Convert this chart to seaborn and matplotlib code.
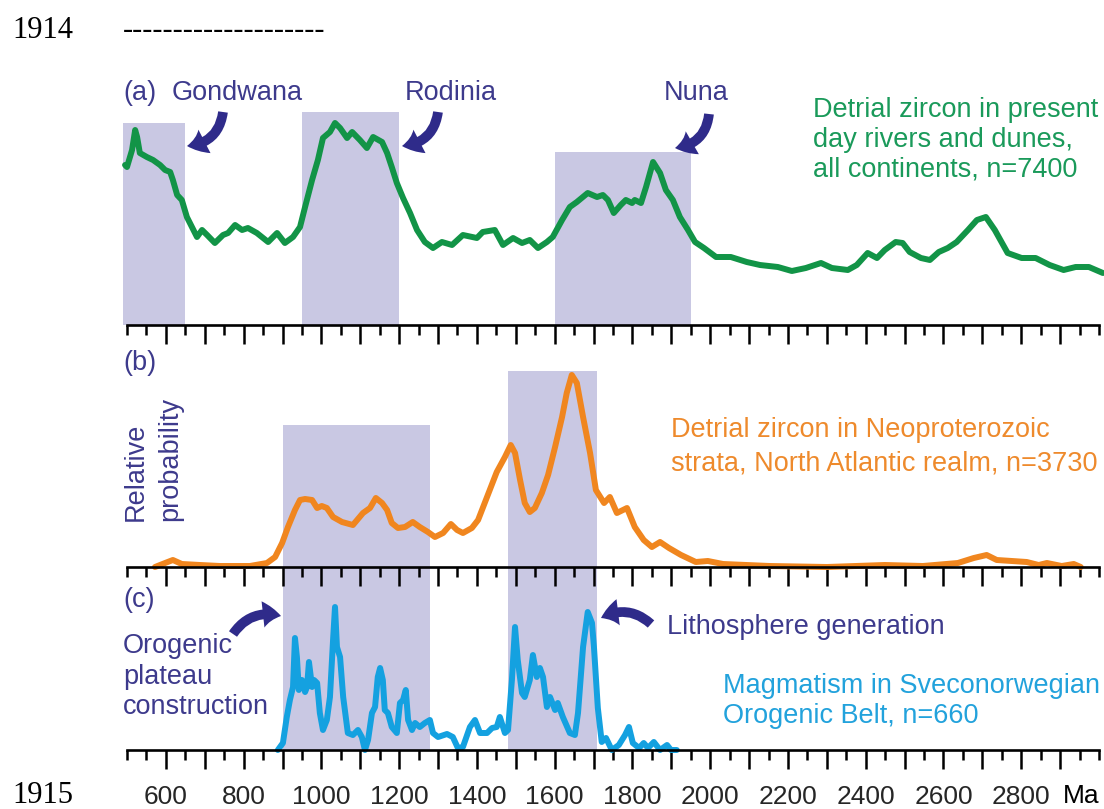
import matplotlib
matplotlib.use("Agg")
import matplotlib.pyplot as plt
import seaborn as sns
import pandas as pd
import numpy as np
from matplotlib.patches import FancyArrowPatch, ArrowStyle
from matplotlib.ticker import FixedLocator, FuncFormatter

# (a) detrital zircon in present-day rivers and dunes, all continents
world_age = [495, 500, 513, 521, 526, 533, 551, 567, 585, 598,
             611, 618, 629, 641, 654, 667, 680, 693, 706, 726,
             747, 760, 778, 796, 811, 834, 863, 886, 906, 927,
             945, 958, 976, 991, 1004, 1022, 1035, 1048, 1066, 1079,
             1099, 1117, 1133, 1156, 1169, 1181, 1194, 1210, 1228, 1246,
             1266, 1287, 1310, 1336, 1364, 1400, 1415, 1446, 1467, 1493,
             1516, 1536, 1557, 1580, 1595, 1619, 1639, 1657, 1685, 1709,
             1724, 1737, 1752, 1770, 1783, 1799, 1806, 1822, 1835, 1853,
             1871, 1886, 1904, 1922, 1943, 1961, 1984, 2015, 2053, 2094,
             2128, 2174, 2210, 2246, 2285, 2313, 2354, 2377, 2405, 2429,
             2449, 2477, 2495, 2513, 2542, 2565, 2588, 2611, 2634, 2663,
             2686, 2709, 2732, 2765, 2801, 2837, 2873, 2909, 2940, 2974,
             3010]
world_prob = [160, 158, 175, 195, 188, 172, 168, 165, 160, 155,
              153, 145, 130, 125, 108, 98, 88, 95, 90, 82,
              90, 92, 100, 95, 97, 92, 83, 92, 82, 88,
              98, 118, 145, 165, 187, 193, 202, 197, 187, 193,
              185, 177, 188, 183, 172, 158, 142, 127, 112, 95,
              83, 77, 83, 80, 90, 87, 93, 95, 80, 87,
              82, 85, 77, 83, 88, 105, 118, 123, 132, 128,
              130, 125, 112, 120, 125, 122, 125, 122, 138, 163,
              152, 135, 125, 108, 95, 83, 77, 68, 68, 63,
              60, 58, 54, 57, 62, 57, 55, 60, 72, 67,
              75, 83, 82, 73, 67, 65, 73, 77, 83, 95,
              105, 108, 95, 72, 67, 67, 60, 55, 58, 58,
              52]

# (b) detrital zircon in Neoproterozoic strata, North Atlantic realm
strata_age = [572, 598, 618, 641, 688, 739, 816, 860, 881, 899,
              914, 932, 945, 958, 976, 989, 1001, 1014, 1030, 1053,
              1081, 1107, 1125, 1140, 1156, 1169, 1181, 1197, 1215, 1235,
              1253, 1274, 1292, 1313, 1333, 1349, 1364, 1387, 1403, 1426,
              1451, 1472, 1487, 1498, 1511, 1523, 1536, 1549, 1567, 1583,
              1601, 1619, 1631, 1644, 1657, 1673, 1691, 1706, 1727, 1742,
              1760, 1786, 1806, 1829, 1850, 1871, 1894, 1925, 1963, 1994,
              2033, 2153, 2300, 2449, 2547, 2637, 2678, 2711, 2737, 2776,
              2814, 2845, 2866, 2904, 2935, 2953]
strata_prob = [0, 4, 7, 3, 2, 1, 1, 4, 10, 24,
               40, 57, 67, 68, 67, 59, 61, 59, 50, 45,
               42, 54, 59, 69, 64, 57, 44, 39, 40, 45,
               40, 35, 30, 34, 43, 37, 34, 39, 47, 70,
               95, 110, 122, 114, 87, 64, 55, 59, 74, 92,
               120, 150, 174, 192, 184, 150, 114, 77, 64, 70,
               54, 59, 40, 27, 20, 25, 19, 12, 5, 6,
               3, 1, 0, 2, 1, 4, 9, 12, 7, 6,
               5, 2, 4, 1, 3, 0]

# (c) magmatism in the Sveconorwegian Orogenic Belt
magma_age = [888, 901, 911, 919, 927, 932, 937, 942, 950, 958,
             963, 968, 976, 981, 989, 996, 1004, 1014, 1022, 1030,
             1035, 1040, 1048, 1056, 1068, 1081, 1094, 1104, 1112, 1120,
             1130, 1138, 1145, 1151, 1158, 1163, 1171, 1181, 1194, 1202,
             1210, 1217, 1223, 1233, 1241, 1253, 1266, 1279, 1287, 1300,
             1323, 1338, 1351, 1364, 1382, 1395, 1408, 1426, 1439, 1451,
             1459, 1472, 1480, 1490, 1498, 1505, 1516, 1523, 1536, 1544,
             1554, 1562, 1570, 1580, 1588, 1601, 1608, 1621, 1639, 1652,
             1660, 1673, 1685, 1696, 1701, 1711, 1721, 1732, 1747, 1765,
             1781, 1791, 1801, 1817, 1829, 1840, 1855, 1871, 1889, 1899,
             1914]
magma_prob = [0, 7, 33, 50, 63, 112, 93, 60, 70, 58,
              63, 88, 63, 70, 67, 37, 20, 30, 53, 110,
              143, 103, 93, 53, 17, 15, 20, 13, 0, 10,
              37, 43, 73, 82, 70, 40, 37, 23, 17, 47,
              50, 60, 30, 20, 27, 23, 27, 30, 17, 13,
              16, 13, 2, 3, 23, 30, 17, 17, 22, 23,
              33, 17, 20, 70, 123, 90, 57, 53, 70, 95,
              73, 82, 73, 43, 53, 40, 47, 33, 17, 15,
              37, 103, 138, 127, 103, 42, 8, 12, 0, 5,
              15, 23, 7, 2, 7, 2, 8, 0, 5, 0,
              0]

# supercontinent assembly intervals (Ma) shaded in panel (a)
supercontinents = ["Gondwana", "Rodinia", "Nuna"]
super_start = [490, 950, 1600]
super_end = [650, 1200, 1950]
super_top = [202, 213, 173]

# Sveconorwegian intervals (Ma) shaded in panels (b) and (c)
orogen_start = [900, 1480]
orogen_end = [1280, 1710]
orogen_top_b = [142, 196]

tick_label_ages = [600, 800, 1000, 1200, 1400, 1600, 1800, 2000, 2200, 2400, 2600, 2800]

sns.set_style("white")
plt.rcParams["font.family"] = ["Liberation Sans", "DejaVu Sans"]

W, H = 1104, 809
fig = plt.figure(figsize=(W / 100, H / 100), dpi=100)


def fx(x):
    return x / W


def fy(y):
    return 1 - y / H


NAVY = "#3d3a8c"
ARROW = "#2f2b8a"
BAND = "#c9c8e3"
GREEN_LINE = "#129447"
GREEN_TEXT = "#1a9a5a"
ORANGE = "#f0861f"
ORANGE_TEXT = "#ee8a2c"
BLUE = "#14a1e0"
BLUE_TEXT = "#22a2dc"
TXT = 19.5
TICK = 19

left, right = 127, 1099
ax_a = fig.add_axes([fx(left), fy(325), (right - left) / W, 265 / H])
ax_b = fig.add_axes([fx(left), fy(567), (right - left) / W, 227 / H])
ax_c = fig.add_axes([fx(left), fy(750), (right - left) / W, 182 / H])
ylims = {ax_a: 265, ax_b: 227, ax_c: 182}
ax_a.set_zorder(3)
ax_b.set_zorder(2)
ax_c.set_zorder(1)

# shaded intervals
for s0, s1, top in zip(super_start, super_end, super_top):
    ax_a.axvspan(s0, s1, ymin=0, ymax=top / 265, color=BAND, lw=0, zorder=0, clip_on=False)
for s0, s1, top in zip(orogen_start, orogen_end, orogen_top_b):
    ax_b.axvspan(s0, s1, ymin=0, ymax=top / 227, color=BAND, lw=0, zorder=0)
    ax_c.axvspan(s0, s1, ymin=0, ymax=1, color=BAND, lw=0, zorder=0)

# probability curves
line_kw = dict(linewidth=4.3, solid_joinstyle="round", solid_capstyle="round",
               clip_on=False, estimator=None, sort=False, legend=False)
sns.lineplot(data=pd.DataFrame({"age": world_age, "prob": world_prob}),
             x="age", y="prob", ax=ax_a, color=GREEN_LINE, **line_kw)
sns.lineplot(data=pd.DataFrame({"age": strata_age, "prob": strata_prob}),
             x="age", y="prob", ax=ax_b, color=ORANGE, **line_kw)
sns.lineplot(data=pd.DataFrame({"age": magma_age, "prob": magma_prob}),
             x="age", y="prob", ax=ax_c, color=BLUE, **line_kw)

for ax in (ax_a, ax_b, ax_c):
    ax.set_xlim(500, 3000)
    ax.set_ylim(0, ylims[ax])
    ax.set_xlabel("")
    ax.set_ylabel("")
    ax.patch.set_alpha(0)
    for s in ("top", "left", "right"):
        ax.spines[s].set_visible(False)
    ax.spines["bottom"].set_visible(True)
    ax.spines["bottom"].set_linewidth(1.9)
    ax.spines["bottom"].set_color("black")
    ax.set_yticks([])
    ax.xaxis.set_major_locator(FixedLocator(np.arange(600, 2901, 100)))
    ax.xaxis.set_minor_locator(FixedLocator([500] + list(np.arange(550, 2951, 100)) + [3000]))
    ax.tick_params(axis="x", which="both", bottom=True, top=False, direction="out",
                   color="black", width=1.8)
    ax.tick_params(axis="x", which="major", length=13.5, labelsize=TICK, pad=11.5)
    ax.tick_params(axis="x", which="minor", length=7)

ax_a.tick_params(axis="x", which="both", labelbottom=False)
ax_b.tick_params(axis="x", which="both", labelbottom=False)
ax_c.xaxis.set_major_formatter(
    FuncFormatter(lambda v, p: f"{int(round(v))}" if int(round(v)) in tick_label_ages else ""))
ax_c.text(2955, -46 / 182, "Ma", transform=ax_c.get_xaxis_transform(),
          ha="center", va="center", fontsize=TICK, color="black")


def label(x, y, s, color=NAVY, size=TXT, **kw):
    fig.text(fx(x), fy(y), s, color=color, fontsize=size, ha="left", va="center", **kw)


def curved_arrow(tail, head, rad):
    arr = FancyArrowPatch(posA=(fx(tail[0]), fy(tail[1])), posB=(fx(head[0]), fy(head[1])),
                          transform=fig.transFigure,
                          arrowstyle=ArrowStyle.Simple(head_length=13, head_width=19, tail_width=7),
                          connectionstyle=f"arc3,rad={rad}", mutation_scale=1,
                          color=ARROW, lw=0, shrinkA=0, shrinkB=0, zorder=10)
    fig.add_artist(arr)


# panel (a)
label(123, 93, "(a)")
label(172, 93, supercontinents[0])
label(405, 93, supercontinents[1])
label(664, 93, supercontinents[2])
curved_arrow((223, 112), (187, 146), -0.4)
curved_arrow((438, 112), (402, 146), -0.4)
curved_arrow((709, 114), (675, 148), -0.4)
label(813, 110, "Detrial zircon in present", GREEN_TEXT)
label(813, 140, "day rivers and dunes,", GREEN_TEXT)
label(813, 170, "all continents, n=7400", GREEN_TEXT)

# panel (b)
label(123, 363, "(b)")
fig.text(fx(143), fy(521), "Relative", rotation=90, rotation_mode="anchor",
         ha="left", va="baseline", color=NAVY, fontsize=TXT)
fig.text(fx(177), fy(521), "probability", rotation=90, rotation_mode="anchor",
         ha="left", va="baseline", color=NAVY, fontsize=TXT)
label(671, 430, "Detrial zircon in Neoproterozoic", ORANGE_TEXT)
label(671, 464, "strata, North Atlantic realm, n=3730", ORANGE_TEXT)

# panel (c)
label(123, 600, "(c)")
label(123, 646, "Orogenic")
label(123, 677, "plateau")
label(123, 707, "construction")
curved_arrow((233, 634), (281, 616), -0.35)
label(667, 627, "Lithosphere generation")
curved_arrow((651, 624), (601, 618), 0.35)
label(723, 686, "Magmatism in Sveconorwegian", BLUE_TEXT)
label(723, 716, "Orogenic Belt, n=660", BLUE_TEXT)

# manuscript line numbers
SERIF = ["Liberation Serif", "DejaVu Serif"]
fig.text(fx(12), fy(38), "1914", family=SERIF, fontsize=22, color="black",
         ha="left", va="baseline")
fig.text(fx(123), fy(38), "-" * 20, family=SERIF, fontsize=22, color="black",
         ha="left", va="baseline")
fig.text(fx(12), fy(803), "1915", family=SERIF, fontsize=22, color="black",
         ha="left", va="baseline")

fig.savefig("out.png", dpi=100, facecolor="white")
